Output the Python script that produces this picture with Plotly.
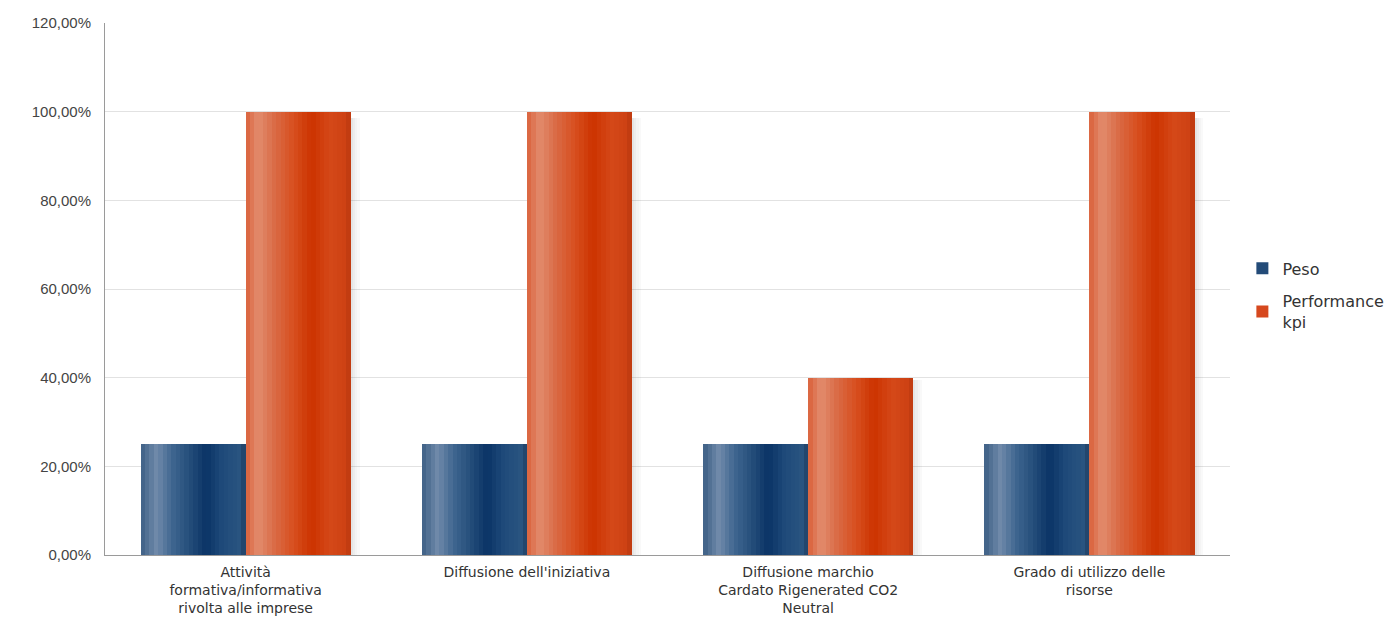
import plotly.graph_objects as go

categories = [
    "Attività<br>formativa/informativa<br>rivolta alle imprese",
    "Diffusione dell'iniziativa",
    "Diffusione marchio<br>Cardato Rigenerated CO2<br>Neutral",
    "Grado di utilizzo delle<br>risorse",
]
peso = [25, 25, 25, 25]
performance_kpi = [100, 100, 40, 100]
series_names = ["Peso", "Performance<br>kpi"]
y_ticks = [0, 20, 40, 60, 80, 100, 120]

# gradient stops (position, rgb) emulating the cylindrical shading
peso_stops = [(0.0, (61, 95, 133)), (0.15, (112, 138, 170)), (0.3, (63, 102, 144)),
              (0.42, (44, 85, 128)), (0.62, (10, 51, 102)), (0.78, (31, 74, 122)),
              (0.95, (42, 85, 128)), (1.0, (30, 60, 95))]
perf_stops = [(0.0, (217, 96, 58)), (0.12, (226, 140, 110)), (0.28, (217, 106, 69)),
              (0.45, (216, 80, 32)), (0.63, (204, 51, 0)), (0.8, (212, 72, 24)),
              (0.95, (206, 66, 20)), (1.0, (185, 55, 15))]


def interp(stops, t):
    for (p0, c0), (p1, c1) in zip(stops[:-1], stops[1:]):
        if p0 <= t <= p1:
            f = (t - p0) / (p1 - p0) if p1 > p0 else 0
            return "rgb(%d,%d,%d)" % tuple(round(a + (b - a) * f) for a, b in zip(c0, c1))
    return "rgb(%d,%d,%d)" % stops[-1][1]


bar_w = 0.373
N = 24
fig = go.Figure()

# soft drop shadow to the right of each bar
for vals, base_off in [(peso, -bar_w), (performance_kpi, 0.0)]:
    yv = [v / 100 * 0.985 for v in vals]
    for k, a in enumerate([0.10, 0.07, 0.045, 0.025]):
        fig.add_trace(go.Bar(x=categories, y=yv, width=0.008, offset=base_off + bar_w + k * 0.008,
                             marker=dict(color="rgba(0,0,0,%.3f)" % a, line=dict(width=0)),
                             showlegend=False, hoverinfo="skip"))

for name, vals, stops, base_off, mid in [
    (series_names[0], peso, peso_stops, -bar_w, "rgb(35,75,120)"),
    (series_names[1], performance_kpi, perf_stops, 0.0, "rgb(214,72,30)"),
]:
    yv = [v / 100 for v in vals]
    # full bar carries the legend entry
    fig.add_trace(go.Bar(x=categories, y=yv, name=name, width=bar_w, offset=base_off,
                         legendgroup=name,
                         marker=dict(color=mid, line=dict(width=0)), hoverinfo="skip"))
    sw = bar_w / N
    for i in range(N):
        t = (i + 0.5) / N
        fig.add_trace(go.Bar(x=categories, y=yv, width=sw * 1.05, offset=base_off + i * sw,
                             legendgroup=name,
                             marker=dict(color=interp(stops, t), line=dict(width=0)),
                             showlegend=False, hoverinfo="skip"))

fig.update_layout(
    barmode="overlay",
    width=1397, height=622,
    margin=dict(l=97, r=175, t=15, b=75),
    paper_bgcolor="white", plot_bgcolor="white",
    separators=",.",
    font=dict(family="Liberation Sans, Arial, sans-serif", size=15, color="#333333"),
    legend=dict(x=1.011, y=0.488, xanchor="left", yanchor="middle",
                font=dict(family="DejaVu Sans, sans-serif", size=16, color="#333333"),
                tracegroupgap=9),
    xaxis=dict(showgrid=False, showline=True, linecolor="#9a9a9a", linewidth=1,
               automargin=False, ticks="outside", ticklen=4, tickcolor="rgba(0,0,0,0)",
               tickfont=dict(family="DejaVu Sans, sans-serif", size=14, color="#333333")),
    yaxis=dict(range=[0, 1.2], tickvals=[v / 100 for v in y_ticks], tickformat=".2%",
               showgrid=True, gridcolor="#e2e2e2", gridwidth=1, zeroline=False,
               showline=True, linecolor="#9a9a9a", linewidth=1, automargin=False,
               ticks="outside", ticklen=10, tickcolor="rgba(0,0,0,0)",
               tickfont=dict(size=15, color="#444444")),
    bargap=0,
)
fig.write_html("out.html")
